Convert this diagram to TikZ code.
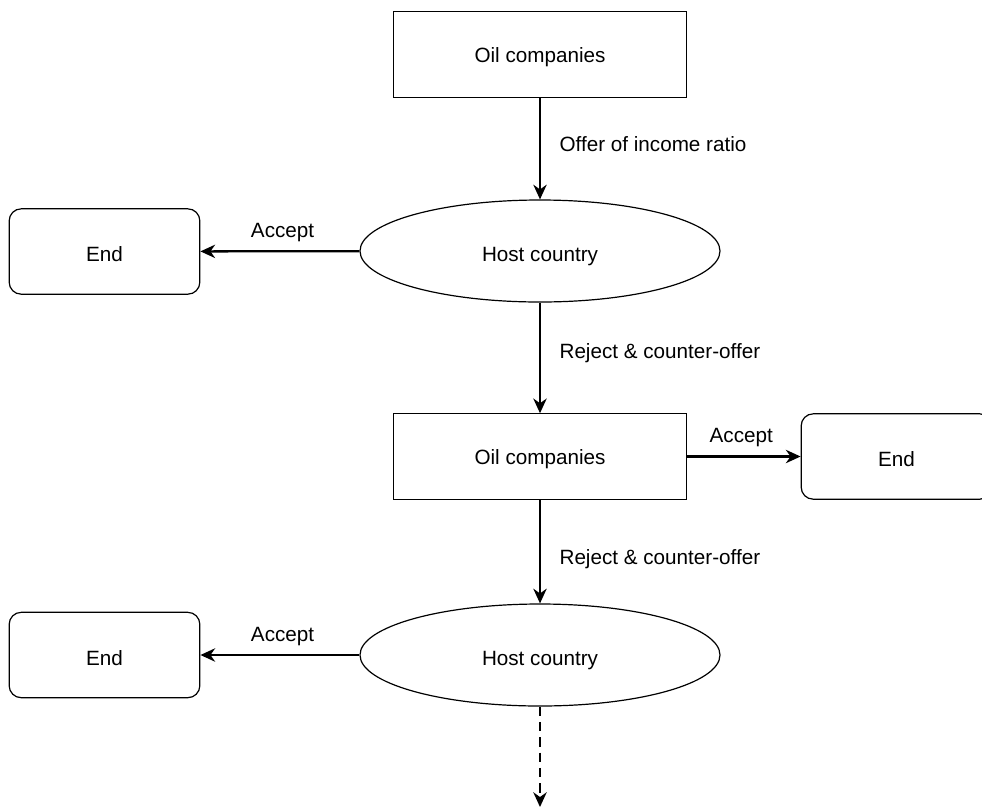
\documentclass[tikz,border=0pt]{standalone}
\usepackage{fontspec}
\setmainfont{Liberation Sans}
\usetikzlibrary{shapes.geometric,positioning,arrows.meta}

\tikzset{
  firmbox/.style={draw, rectangle, minimum width=220pt, minimum height=64pt, line width=0.9pt, text height=12.6pt, text depth=0pt},
  hostbox/.style={draw, ellipse, inner sep=0pt, minimum width=270pt, minimum height=76.5pt, line width=0.9pt, text height=15.6pt, text depth=0pt},
  endbox/.style={draw, rectangle, rounded corners=9pt, minimum width=143pt, minimum height=64pt, line width=0.9pt, text height=15.6pt, text depth=0pt},
  lbl/.style={text height=11.1pt, text depth=0pt},
  flow/.style={-{Stealth[length=11pt,width=10pt,inset=3.5pt]}, line width=1.7pt},
}

\begin{document}
\begin{tikzpicture}[x=0.75pt, y=-0.75pt, font=\fontsize{15.5}{18}\selectfont]
    \useasboundingbox (0,0) rectangle (982,808);
    % the two players, one after the other
    \node (oilA) [firmbox] at (540,54.5) {Oil companies};
    \node (hostA) [hostbox] at (540,251) {Host country};
    \node (oilB) [firmbox] at (540,456.5) {Oil companies};
    \node (hostB) [hostbox] at (540,655) {Host country};
    % ends of the bargaining
    \node (endA) [endbox] at (104.5,251.5) {End};
    \node (endB) [endbox] at (896.5,456.5) {End};
    \node (endC) [endbox] at (104.5,655) {End};
    \coordinate (more) at (540,807);

    \draw[flow] (oilA) -- node[lbl, right=10.5pt, pos=0.456] {Offer of income ratio} (hostA);
    \draw[flow] (hostA) -- node[lbl, above=6.3pt, xshift=2pt] {Accept} (endA);
    \draw[flow] (hostA) -- node[lbl, right=10.5pt, pos=0.44] {Reject \& counter-offer} (oilB);
    \draw[flow] (oilB) -- node[lbl, above=6.3pt, xshift=-2pt] {Accept} (endB);
    \draw[flow] (oilB) -- node[lbl, right=10.5pt, pos=0.553] {Reject \& counter-offer} (hostB);
    \draw[flow] (hostB) -- node[lbl, above=6.3pt, xshift=2pt] {Accept} (endC);
    \draw[flow, dash pattern=on 7pt off 4.5pt] (hostB) -- (more);
\end{tikzpicture}
\end{document}
